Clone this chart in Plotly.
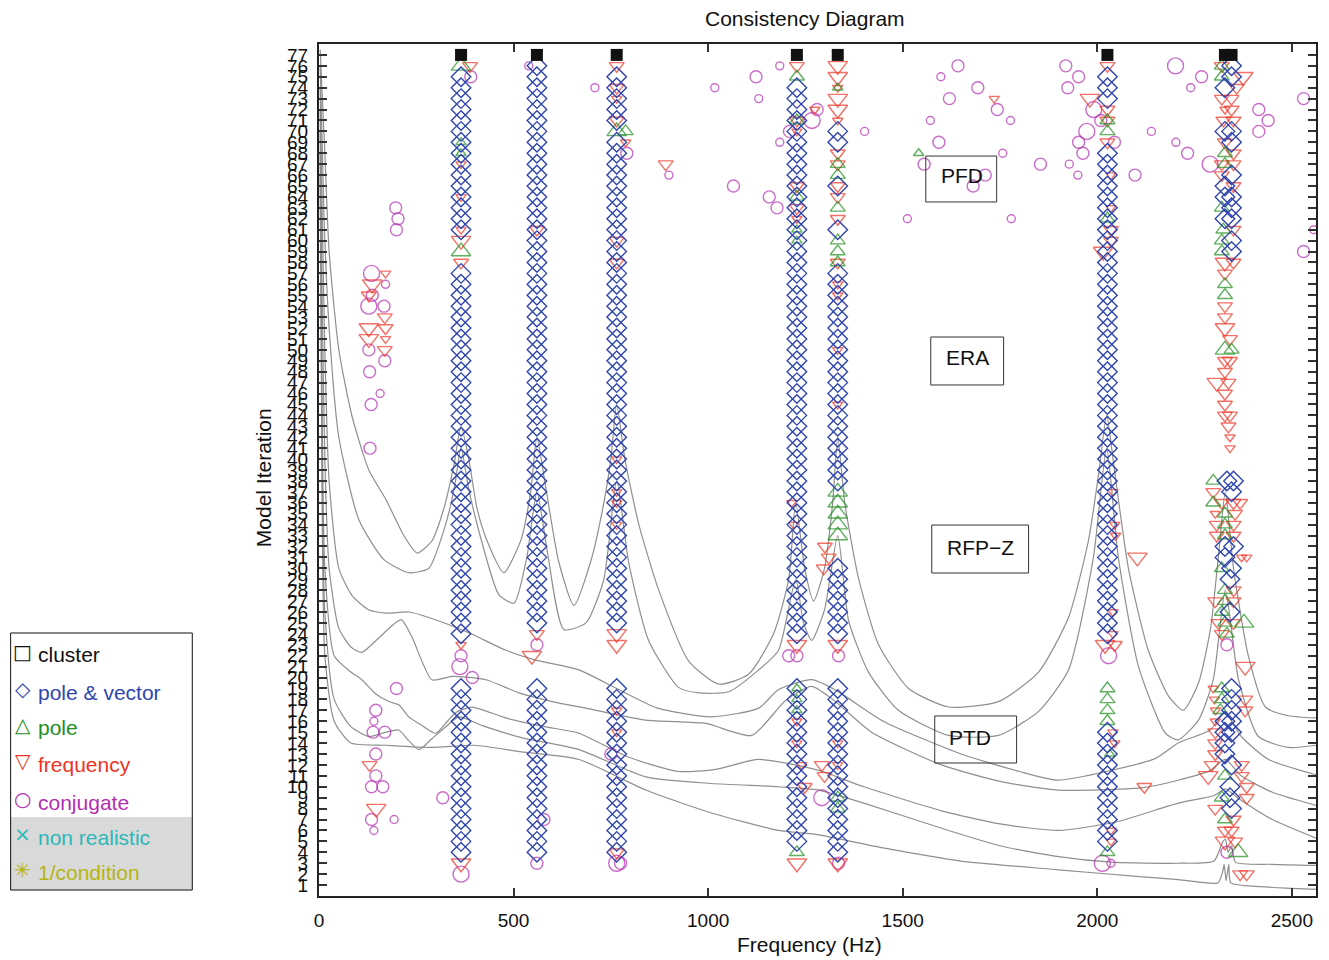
import plotly.graph_objects as go

# ---------------- axes ----------------
FREQ_RANGE = [0, 2562]
ITER_RANGE = [0, 78]
X_TICKS = [0, 500, 1000, 1500, 2000, 2500]
Y_TICKS = list(range(1, 78))

# ---------------- response curves (frequency in Hz, level in iteration units) ----------------
CURVE_1 = [(3, 77.5), (15, 68), (26, 59), (51, 50), (85, 43.9), (128, 39), (172, 36.3), (218, 33), (252, 31.4),
           (290, 32.5), (321, 35.5), (347, 39.5), (365, 43), (385, 40), (406, 35.5), (431, 32.6), (475, 29.6),
           (519, 32.6), (544, 37), (560, 42), (580, 38), (616, 30.6), (655, 26.6), (698, 30.6), (732, 36),
           (750, 40), (765, 45), (786, 40), (822, 34), (873, 28), (950, 21.5), (1027, 19.4), (1104, 20.3),
           (1168, 24), (1207, 29), (1225, 36), (1248, 30), (1271, 27), (1299, 30), (1320, 36), (1333, 42),
           (1351, 36), (1387, 29), (1438, 23), (1515, 19), (1618, 17.3), (1746, 17.8), (1849, 20.5),
           (1926, 25.5), (1977, 32.5), (2003, 38.5), (2024, 44), (2044, 39), (2080, 30), (2131, 22.5),
           (2183, 18.3), (2221, 17), (2260, 19.5), (2291, 24.5), (2311, 31), (2329, 37), (2350, 30),
           (2388, 22), (2432, 17.3), (2491, 16.5), (2562, 16.3)]
CURVE_2 = [(3, 76), (13, 62), (26, 52), (51, 42), (103, 34.4), (167, 30.8), (231, 29.6), (282, 30), (321, 33.5),
           (347, 37.2), (365, 41), (385, 37.2), (424, 31.7), (462, 27.6), (501, 26.8), (534, 31), (560, 37),
           (586, 31.7), (629, 24.4), (686, 25), (732, 29), (765, 38), (796, 30.5), (847, 23.4), (924, 19.1),
           (976, 18.6), (1053, 18.7), (1130, 20.7), (1181, 22.5), (1225, 29), (1245, 25), (1266, 23.4),
           (1299, 26.2), (1333, 33), (1361, 25.2), (1412, 20.5), (1489, 17), (1618, 14.7), (1746, 14.7),
           (1849, 16.9), (1926, 20.7), (1990, 31), (2024, 41), (2054, 31), (2106, 21), (2175, 14.9),
           (2208, 14.3), (2260, 16.1), (2298, 19.8), (2329, 28), (2363, 19.8), (2414, 14.6), (2491, 13.6),
           (2562, 13.8)]
CURVE_3 = [(3, 74), (8, 63), (15, 50), (26, 38), (51, 30), (85, 27.5), (128, 26.2), (172, 25.9), (231, 26.0),
           (282, 25.5), (385, 24.1), (480, 22.5), (557, 21.6), (668, 20.7), (770, 18.9), (870, 17.2),
           (1009, 16.4), (1130, 17.2), (1181, 18.9), (1266, 19.8), (1330, 18.8), (1450, 16.0), (1650, 13.0),
           (1800, 11.4), (1900, 10.6), (2036, 11.5), (2150, 12.6), (2208, 14.0), (2290, 15.2), (2329, 16.8),
           (2370, 14.6), (2440, 12.5), (2562, 11.1)]
CURVE_4 = [(3, 72), (8, 55), (15, 40), (26, 30), (51, 24.5), (82, 22.8), (110, 22.3), (150, 23.5), (211, 25.3),
           (239, 23.7), (290, 19.8), (342, 20.1), (429, 19.8), (514, 18.6), (600, 17.8), (686, 17.2),
           (840, 16.1), (994, 15.8), (1112, 14.7), (1199, 17.9), (1266, 19.2), (1320, 18.0), (1420, 15.0),
           (1600, 12.0), (1750, 10.5), (1900, 9.7), (2113, 9.9), (2208, 10.6), (2290, 11.5), (2329, 12.5),
           (2370, 11.0), (2450, 9.5), (2562, 8.3)]
CURVE_5 = [(3, 70), (8, 45), (15, 30), (39, 22), (82, 20.5), (110, 19.8), (146, 18.5), (180, 17.8), (205, 17.5),
           (231, 16.4), (265, 15.6), (300, 14.9), (330, 16.0), (352, 16.8), (393, 17.3), (480, 16.3),
           (580, 15.5), (668, 14.9), (796, 12.7), (924, 11.4), (1020, 11.6), (1130, 12.5), (1284, 11.5),
           (1400, 10.0), (1600, 7.8), (1750, 6.6), (1900, 6.0), (2050, 6.8), (2208, 8.5), (2300, 9.2),
           (2329, 9.8), (2360, 9.0), (2450, 7.0), (2562, 5.3)]
CURVE_6 = [(3, 68), (8, 40), (15, 26), (39, 18), (82, 15.5), (128, 14.6), (172, 15.0), (205, 15.2), (231, 14.2),
           (257, 13.4), (290, 14.4), (326, 15.5), (360, 16.4), (420, 15.6), (520, 14.5), (668, 13.4),
           (840, 10.9), (1009, 10.3), (1181, 10.0), (1284, 9.7), (1400, 8.5), (1600, 6.2), (1750, 4.6),
           (1900, 3.6), (2036, 3.1), (2208, 3.0), (2300, 3.2), (2320, 4.8), (2329, 5.2), (2336, 4.0),
           (2345, 4.6), (2355, 3.1), (2450, 2.9), (2562, 2.8)]
CURVE_7 = [(3, 66), (8, 36), (15, 22), (39, 16), (82, 14.0), (172, 13.8), (290, 13.6), (400, 13.8), (520, 13.2),
           (668, 12.5), (840, 9.7), (1009, 7.6), (1181, 6.0), (1284, 5.6), (1450, 4.4), (1650, 3.2),
           (1900, 2.4), (2100, 1.8), (2208, 1.5), (2310, 1.2), (2322, 2.2), (2326, 2.9), (2331, 1.4),
           (2338, 2.9), (2343, 1.2), (2400, 0.9), (2500, 0.7), (2562, 0.6)]
CURVES = [CURVE_1, CURVE_2, CURVE_3, CURVE_4, CURVE_5, CURVE_6, CURVE_7]

# ---------------- stabilisation markers ----------------
CLUSTER_FREQS = [365, 560, 765, 1228, 1333, 2026, 2328, 2345]
CLUSTER_ITER = 77

# pole & vector columns: frequency and runs of consecutive iterations (from, to)
PV_A = (365, [(75, 61), (57, 24), (19, 4)])
PV_B = (560, [(76, 25), (19, 4)])
PV_C = (765, [(75, 71), (69, 25), (19, 4)])
PV_D = (1228, [(74, 24), (19, 5)])
PV_E = (1333, [(70, 69), (65, 65), (61, 61), (57, 38), (30, 24), (19, 4)])
PV_F = (2026, [(75, 73), (68, 24), (15, 5)])
PV_G = [(2345, 76), (2345, 75), (2328, 74), (2328, 70), (2345, 70), (2345, 69), (2345, 66), (2328, 65),
        (2328, 64), (2345, 64), (2345, 63), (2328, 62), (2345, 62), (2345, 60), (2345, 59), (2333, 38),
        (2350, 38), (2345, 37), (2328, 32), (2350, 32), (2328, 31), (2345, 30), (2341, 29), (2341, 26),
        (2345, 19), (2345, 18), (2345, 17), (2328, 16), (2345, 16), (2328, 15), (2345, 15), (2328, 14),
        (2328, 13), (2345, 12), (2341, 10), (2341, 9), (2345, 8)]

# (frequency, iteration, strength 1..3)
POLE_POINTS = [
    (365, 76, 3), (365, 69, 1), (365, 68, 1), (365, 59, 3),
    (765, 70, 3), (788, 70, 2),
    (1228, 75, 2), (1228, 71, 2), (1228, 64, 2), (1228, 61, 1), (1228, 60, 1), (1228, 19, 1), (1228, 18, 1),
    (1228, 17, 1), (1228, 4, 2),
    (1333, 74, 1), (1333, 67, 2), (1333, 66, 2), (1333, 63, 2), (1333, 60, 2), (1333, 59, 2), (1333, 58, 2),
    (1333, 37, 3), (1333, 36, 3), (1333, 35, 3), (1333, 34, 3), (1333, 33, 3), (1333, 9, 2), (1333, 8, 2),
    (2026, 71, 2), (2026, 70, 2), (2026, 62, 2), (2026, 19, 2), (2026, 18, 2), (2026, 17, 2), (2026, 16, 2),
    (2032, 13, 1), (2026, 4, 2),
    (1541, 68, 1),
    (2320, 76, 2), (2320, 75, 2), (2328, 68, 2), (2328, 67, 2), (2320, 63, 2), (2324, 61, 2), (2320, 60, 2),
    (2320, 59, 2), (2328, 56, 2), (2328, 55, 2), (2328, 50, 3), (2345, 50, 2), (2298, 38, 2), (2298, 36, 2),
    (2328, 35, 2), (2328, 34, 2), (2328, 33, 2), (2320, 30, 2), (2328, 28, 2), (2328, 27, 2), (2320, 26, 2),
    (2328, 25, 2), (2377, 25, 3), (2333, 24, 2), (2320, 19, 2), (2320, 18, 2), (2316, 17, 2), (2328, 11, 2),
    (2320, 9, 2), (2328, 7, 2), (2362, 4, 3),
]

FREQUENCY_POINTS = [
    (171, 57, 1), (137, 56, 3), (128, 55, 2), (169, 53, 2), (128, 52, 3), (171, 52, 2), (128, 51, 3),
    (171, 51, 1), (169, 50, 2), (130, 12, 2), (147, 8, 3),
    (388, 76, 2), (365, 67, 1), (365, 64, 1), (365, 61, 1), (365, 60, 3), (365, 58, 2), (365, 23, 1),
    (365, 3, 3),
    (560, 61, 2), (560, 24, 2), (547, 22, 3),
    (765, 76, 2), (765, 74, 2), (765, 73, 1), (765, 71, 2), (788, 69, 1), (891, 67, 2), (765, 60, 2),
    (765, 58, 2), (765, 40, 1), (765, 37, 1), (765, 36, 1), (765, 34, 1), (765, 24, 3), (765, 23, 3),
    (765, 17, 1), (765, 15, 1), (765, 4, 2),
    (1228, 76, 2), (1274, 72, 1), (1228, 71, 2), (1228, 70, 1), (1228, 65, 2), (1228, 63, 2), (1228, 62, 1),
    (1215, 36, 1), (1220, 34, 1), (1228, 23, 3), (1228, 16, 1), (1228, 14, 1), (1240, 12, 1), (1292, 12, 2),
    (1299, 11, 2), (1248, 10, 2), (1228, 3, 3),
    (1333, 76, 3), (1333, 75, 3), (1333, 74, 1), (1333, 73, 3), (1333, 72, 3), (1333, 71, 1), (1333, 68, 2),
    (1333, 67, 2), (1333, 65, 2), (1333, 64, 2), (1333, 62, 2), (1333, 58, 2), (1333, 56, 1), (1333, 55, 1),
    (1333, 50, 1), (1333, 45, 1), (1300, 32, 2), (1310, 31, 2), (1297, 30, 2), (1333, 23, 3), (1333, 14, 1),
    (1333, 12, 1), (1333, 3, 3),
    (1735, 73, 1),
    (2026, 76, 2), (1981, 73, 3), (2026, 72, 2), (2026, 71, 2), (2026, 69, 2), (2035, 66, 1), (2035, 63, 1),
    (2035, 61, 2), (2035, 60, 2), (2015, 59, 3), (2040, 37, 1), (2045, 34, 1), (2047, 33, 1), (2103, 31, 3),
    (2040, 26, 1), (2040, 24, 1), (2020, 23, 3), (2045, 23, 2), (2040, 15, 1), (2045, 14, 1), (2121, 10, 2),
    (2035, 6, 1), (2035, 5, 1),
    (2320, 76, 2), (2375, 75, 3), (2358, 74, 2), (2320, 73, 2), (2345, 73, 2), (2328, 72, 1), (2345, 72, 2),
    (2324, 71, 2), (2350, 71, 2), (2328, 69, 2), (2350, 68, 2), (2320, 67, 2), (2350, 67, 2), (2320, 66, 2),
    (2350, 65, 2), (2350, 61, 2), (2328, 58, 3), (2350, 58, 2), (2328, 57, 2), (2328, 54, 2), (2328, 53, 2),
    (2328, 52, 3), (2341, 51, 2), (2328, 49, 2), (2341, 49, 2), (2328, 48, 2), (2307, 47, 3), (2337, 47, 2),
    (2328, 46, 2), (2328, 45, 2), (2328, 44, 2), (2341, 44, 2), (2337, 43, 2), (2341, 42, 1), (2341, 41, 1),
    (2298, 37, 2), (2320, 36, 2), (2350, 36, 2), (2367, 36, 2), (2303, 35, 1), (2354, 35, 2), (2307, 34, 2),
    (2350, 34, 2), (2307, 33, 2), (2350, 33, 2), (2371, 31, 1), (2384, 31, 1), (2350, 28, 2), (2303, 27, 2),
    (2350, 27, 2), (2311, 25, 2), (2350, 25, 2), (2320, 24, 2), (2380, 21, 3), (2298, 19, 1), (2301, 18, 1),
    (2380, 18, 2), (2304, 17, 1), (2380, 17, 2), (2303, 16, 1), (2303, 15, 2), (2303, 14, 2), (2303, 13, 2),
    (2294, 12, 2), (2371, 12, 2), (2285, 11, 3), (2371, 11, 2), (2384, 10, 2), (2384, 9, 2), (2303, 8, 2),
    (2350, 7, 2), (2328, 6, 2), (2345, 6, 2), (2328, 5, 3), (2354, 5, 2), (2367, 2, 2), (2384, 2, 2),
]

CONJUGATE_POINTS = [
    (135, 57, 3), (171, 56, 1), (137, 55, 2), (128, 54, 3), (167, 54, 2), (128, 50, 2), (169, 49, 2),
    (130, 48, 2), (157, 46, 1), (134, 45, 2), (131, 41, 2), (197, 63, 2), (203, 62, 2), (199, 61, 2),
    (199, 19, 2), (146, 17, 2), (141, 16, 1), (139, 15, 2), (169, 15, 2), (146, 13, 2), (146, 11, 2),
    (135, 10, 2), (164, 10, 2), (135, 7, 2), (193, 7, 1), (141, 6, 1),
    (390, 75, 2), (365, 22, 2), (362, 21, 3), (394, 20, 2), (318, 9, 2), (365, 2, 3),
    (539, 76, 1), (560, 23, 2), (578, 7, 2), (560, 3, 2),
    (709, 74, 1), (791, 68, 2), (899, 66, 1), (750, 13, 2), (765, 3, 3), (775, 3, 2),
    (1017, 74, 1), (1123, 75, 2), (1184, 76, 1), (1130, 73, 1), (1065, 65, 2), (1157, 64, 2), (1177, 63, 2),
    (1184, 69, 1), (1209, 70, 2), (1280, 72, 2), (1267, 71, 3), (1402, 70, 1), (1207, 22, 2), (1228, 22, 2),
    (1292, 9, 3),
    (1335, 22, 2), (1335, 3, 2),
    (1642, 76, 2), (1598, 75, 1), (1693, 74, 2), (1620, 73, 2), (1743, 72, 2), (1571, 71, 1), (1777, 71, 1),
    (1593, 69, 2), (1757, 68, 1), (1555, 67, 2), (1712, 66, 2), (1681, 65, 2), (1512, 62, 1), (1779, 62, 1),
    (1854, 67, 2),
    (1919, 76, 2), (1952, 75, 2), (1924, 74, 2), (1991, 72, 3), (2009, 71, 2), (1973, 70, 3), (1952, 69, 2),
    (1963, 68, 2), (1928, 67, 1), (1950, 66, 1), (2044, 69, 2), (2097, 66, 2), (2139, 70, 1), (2202, 69, 1),
    (2232, 68, 2), (2240, 74, 1), (2201, 76, 3), (2268, 75, 2), (2290, 67, 3), (2415, 72, 2), (2439, 71, 2),
    (2415, 70, 2), (2530, 73, 2), (2556, 61, 1), (2530, 59, 2), (2029, 22, 3), (2013, 3, 3), (2035, 3, 1),
    (2333, 23, 2), (2333, 4, 2),
]

METHOD_LABELS = ["PFD", "ERA", "RFP\u2212Z", "PTD"]
LEGEND_LABELS = ["cluster", "pole & vector", "pole", "frequency", "conjugate", "non realistic", "1/condition"]
LEGEND_SYMBOLS = ["\u25a1", "\u25c7", "\u25b3", "\u25bd", "\u25cb", "\u00d7", "\u2733"]

# ---------------- styling ----------------
BLUE = "#2f45ad"
GREEN = "#1e8f1e"
RED = "#ee3322"
MAGENTA = "#b22fb2"
CYAN = "#2bb8b8"
OLIVE = "#b5b512"
CURVE_GREY = "#8f8f8f"
FONT = "Liberation Sans, Arial, sans-serif"

CIRCLE_SIZE = {1: 8, 2: 12, 3: 16}
TRI_SIZE = {1: 9, 2: 13, 3: 17}


def expand_runs(col):
    freq, runs = col
    xs, ys = [], []
    for hi, lo in runs:
        for it in range(hi, lo - 1, -1):
            xs.append(freq)
            ys.append(it)
    return xs, ys


fig = go.Figure()

for curve in CURVES:
    fig.add_trace(go.Scatter(
        x=[p[0] for p in curve], y=[p[1] for p in curve], mode="lines",
        line=dict(color=CURVE_GREY, width=1.2, shape="spline", smoothing=0.6),
        hoverinfo="skip", showlegend=False))


def add_points(points, symbol, color, sizes):
    fig.add_trace(go.Scatter(
        x=[p[0] for p in points], y=[p[1] for p in points], mode="markers",
        marker=dict(symbol=symbol, size=[sizes[p[2]] for p in points], color=color,
                    line=dict(color=color, width=1.4)),
        showlegend=False))


add_points(CONJUGATE_POINTS, "circle-open", MAGENTA, CIRCLE_SIZE)
add_points(FREQUENCY_POINTS, "triangle-down-open", RED, TRI_SIZE)
add_points(POLE_POINTS, "triangle-up-open", GREEN, TRI_SIZE)

pv_x, pv_y = [], []
for col in [PV_A, PV_B, PV_C, PV_D, PV_E, PV_F]:
    xs, ys = expand_runs(col)
    pv_x += xs
    pv_y += ys
pv_x += [p[0] for p in PV_G]
pv_y += [p[1] for p in PV_G]
fig.add_trace(go.Scatter(
    x=pv_x, y=pv_y, mode="markers",
    marker=dict(symbol="diamond-open", size=15, color=BLUE, line=dict(color=BLUE, width=1.4)),
    showlegend=False))

fig.add_trace(go.Scatter(
    x=CLUSTER_FREQS, y=[CLUSTER_ITER] * len(CLUSTER_FREQS), mode="markers",
    marker=dict(symbol="square", size=12, color="#111111"), showlegend=False))

# ---------------- method boxes ----------------
box_specs = [  # x0, x1, y0, y1 (paper) and text anchor
    (0.6086, 0.6797, 0.8146, 0.8685, 0.6216, 0.8451),
    (0.6136, 0.6867, 0.5998, 0.6561, 0.6266, 0.6315),
    (0.6146, 0.7117, 0.3791, 0.4354, 0.6276, 0.4085),
    (0.6176, 0.6997, 0.1561, 0.2113, 0.6296, 0.1866),
]
shapes = []
annotations = []
for label, (x0, x1, y0, y1, tx, ty) in zip(METHOD_LABELS, box_specs):
    shapes.append(dict(type="rect", xref="paper", yref="paper", x0=x0, x1=x1, y0=y0, y1=y1,
                       line=dict(color="#333333", width=1), fillcolor="rgba(0,0,0,0)", layer="above"))
    annotations.append(dict(text=label, xref="paper", yref="paper", x=tx, y=ty, xanchor="left",
                            yanchor="middle", showarrow=False, font=dict(family=FONT, size=21, color="#111")))

# ---------------- legend panel ----------------
shapes.append(dict(type="rect", xref="paper", yref="paper", x0=-0.3093, x1=-0.1271, y0=0.0070, y1=0.0927,
                   line=dict(width=0), fillcolor="#d9d9d9", layer="below"))
shapes.append(dict(type="rect", xref="paper", yref="paper", x0=-0.3093, x1=-0.1271, y0=0.0070, y1=0.3087,
                   line=dict(color="#111", width=1), fillcolor="rgba(0,0,0,0)"))
legend_colors = ["#111111", BLUE, GREEN, RED, MAGENTA, CYAN, OLIVE]
legend_y = [0.2829, 0.2394, 0.1972, 0.1549, 0.1103, 0.0692, 0.0270]
for sym, lab, col, ly in zip(LEGEND_SYMBOLS, LEGEND_LABELS, legend_colors, legend_y):
    annotations.append(dict(text=sym, xref="paper", yref="paper", x=-0.2973, y=ly + 0.003, xanchor="center",
                            yanchor="middle", showarrow=False,
                            font=dict(family="DejaVu Sans", size=20, color=col)))
    annotations.append(dict(text=lab, xref="paper", yref="paper", x=-0.2843, y=ly, xanchor="left",
                            yanchor="middle", showarrow=False, font=dict(family=FONT, size=21, color=col)))

# ---------------- titles ----------------
annotations.append(dict(text="Consistency Diagram", xref="paper", yref="paper", x=0.4875, y=1.0305,
                        xanchor="center", yanchor="middle", showarrow=False,
                        font=dict(family=FONT, size=21, color="#111")))
annotations.append(dict(text="Frequency (Hz)", xref="paper", yref="paper", x=0.4915, y=-0.0575,
                        xanchor="center", yanchor="middle", showarrow=False,
                        font=dict(family=FONT, size=21, color="#111")))
annotations.append(dict(text="Model Iteration", xref="paper", yref="paper", x=-0.056, y=0.4906,
                        xanchor="center", yanchor="middle", showarrow=False, textangle=-90,
                        font=dict(family=FONT, size=21, color="#111")))

fig.update_layout(
    width=1329, height=960,
    margin=dict(l=319, r=11, t=44, b=64),
    paper_bgcolor="white", plot_bgcolor="white",
    shapes=shapes, annotations=annotations,
    showlegend=False,
    font=dict(family=FONT, color="#111"),
)
fig.update_xaxes(range=FREQ_RANGE, tickvals=X_TICKS, ticks="inside", ticklen=8, tickwidth=1.5,
                 tickcolor="#333", showline=True, linewidth=2, linecolor="#222", mirror="ticks",
                 showgrid=False, zeroline=False, tickfont=dict(size=19, family=FONT, color="#111"),
                 ticklabelstandoff=6)
fig.update_yaxes(range=ITER_RANGE, tickvals=Y_TICKS, ticks="inside", ticklen=8, tickwidth=1.5,
                 tickcolor="#333", showline=True, linewidth=2, linecolor="#222", mirror="ticks",
                 showgrid=False, zeroline=False, tickangle=0,
                 tickfont=dict(size=19, family=FONT, color="#111"), ticklabelstandoff=5)

fig.write_html("out.html")
